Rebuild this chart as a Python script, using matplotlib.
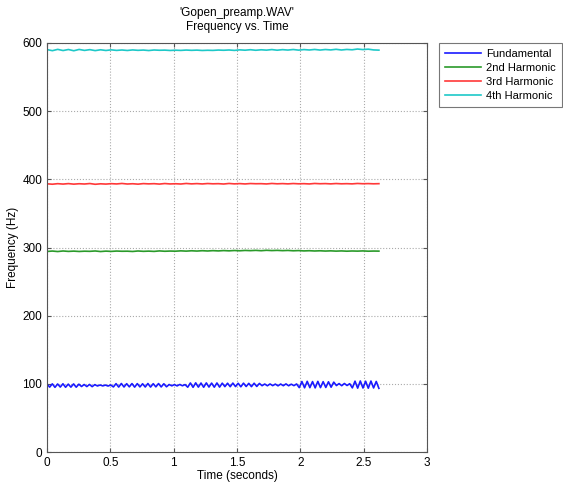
import numpy as np
import matplotlib.pyplot as plt

plt.rcParams['font.family'] = ['Liberation Sans', 'DejaVu Sans']

# pitch track (Hz)
fundamental = [99.8, 95.3, 100.1, 95.0, 99.9, 95.4, 100.2, 95.1, 99.7, 95.3, 100.0, 95.2, 99.6,
               96.2, 99.1, 96.1, 99.2, 96.0, 98.9,
               97.0, 98.4, 97.1, 98.3, 96.9, 98.5,
               95.6, 100.4, 95.4, 100.6, 95.5, 100.3, 95.7, 100.5, 95.3, 100.4, 95.6, 100.2,
               95.5, 100.6, 95.4, 100.3, 95.7, 100.5, 95.6, 100.2, 95.8,
               99.1, 97.2, 99.0, 97.1, 99.2, 97.3, 99.0,
               95.2, 101.4, 95.0, 101.6, 95.3, 101.3, 95.1, 101.5, 95.4, 101.2, 95.2, 101.4, 95.3, 101.1,
               96.0, 101.0, 95.9, 101.2, 96.1, 100.9, 95.8, 101.1, 96.2, 100.8, 96.0, 101.0, 96.3, 100.7,
               97.4, 99.8, 97.3, 99.9, 97.5, 99.7, 97.2, 99.8, 97.4, 100.0, 97.3, 99.6, 97.5, 99.9,
               94.6, 103.5, 94.3, 103.8, 94.5, 103.4, 94.2, 103.7, 94.6, 103.3, 94.8, 103.1, 95.2, 102.6,
               97.6, 100.5, 97.4, 100.6, 97.7, 100.3,
               94.2, 104.0, 93.8, 104.3, 94.0, 103.9, 93.7, 104.2, 94.1, 103.6, 93.5]

harm2 = [294.2, 294.8, 294.1, 294.9, 294.3, 294.7, 294.2, 294.6, 294.4, 294.9, 294.1, 294.7,
         294.3, 294.8, 294.5, 294.6, 294.2, 294.9, 294.4, 294.7, 294.3, 295.0, 294.5, 294.8,
         294.6, 295.1, 294.7, 295.2, 294.8, 295.3, 294.9, 295.4, 295.0, 295.5, 295.1, 295.6,
         295.2, 295.7, 295.4, 295.8, 295.3, 295.9, 295.5, 295.8, 295.4, 295.7, 295.2, 295.5,
         295.0, 295.3, 294.9, 295.2, 294.8, 295.1, 294.7, 295.0, 294.6, 294.9, 294.7, 295.0,
         294.6, 294.8, 294.7]

harm3 = [393.4, 392.8, 393.6, 393.0, 393.7, 392.9, 393.5, 393.1, 393.8, 392.7, 393.4, 393.0,
         393.6, 393.2, 393.9, 393.1, 393.5, 392.9, 393.7, 393.3, 393.6, 393.0, 393.8, 393.2,
         393.5, 393.1, 393.9, 393.3, 393.7, 393.2, 393.8, 393.4, 393.6, 393.1, 393.9, 393.3,
         393.7, 393.2, 393.8, 393.5, 393.6, 393.2, 393.9, 393.4, 393.7, 393.3, 393.8, 393.4,
         393.6, 393.2, 393.9, 393.5, 393.7, 393.3, 393.8, 393.4, 393.6, 393.3, 393.9, 393.5,
         393.7, 393.4, 393.6]

harm4 = [590.2, 588.6, 590.5, 588.8, 590.3, 588.5, 590.4, 589.0, 590.1, 588.7, 589.9, 588.9,
         589.8, 589.0, 589.6, 588.9, 589.7, 589.1, 589.5, 588.8, 589.6, 589.2, 589.4, 588.9,
         589.3, 589.0, 589.5, 589.1, 589.4, 588.9, 589.2, 589.0, 589.5, 589.2, 589.6, 589.0,
         589.8, 589.3, 590.0, 589.2, 589.9, 589.4, 590.2, 589.3, 590.1, 589.5, 590.3, 589.4,
         590.2, 589.6, 590.4, 589.5, 590.3, 589.7, 590.6, 589.6, 590.4, 589.9, 591.0, 590.2,
         590.8, 589.7, 589.4]

labels = ['Fundamental', '2nd Harmonic', '3rd Harmonic', '4th Harmonic']
colors = ['#1a1aff', '#2a9a2a', '#ff3838', '#1ec8c8']
t_end = 2.62

fig = plt.figure(figsize=(5.63, 4.82), dpi=100)
ax = fig.add_axes([0.0835, 0.062, 0.675, 0.849])

for vals, lab, c in zip([fundamental, harm2, harm3, harm4], labels, colors):
    t = np.linspace(0, t_end, len(vals))
    ax.plot(t, vals, color=c, lw=1.2, label=lab)

ax.set_xlim(0, 3)
ax.set_ylim(0, 600)
ax.set_xticks([0, 0.5, 1, 1.5, 2, 2.5, 3])
ax.set_xticklabels(['0', '0.5', '1', '1.5', '2', '2.5', '3'])
ax.set_yticks(range(0, 601, 100))
ax.grid(True, ls=':', color='#aaaaaa', lw=0.8)
ax.tick_params(direction='in', labelsize=8.5, length=3, color='#555555',
               top=True, right=True)
for s in ax.spines.values():
    s.set_color('#555555')

ax.set_xlabel('Time (seconds)', fontsize=8.5, labelpad=1)
ax.set_ylabel('Frequency (Hz)', fontsize=8.5, labelpad=2)
ax.set_title("'Gopen_preamp.WAV'\nFrequency vs. Time", fontsize=8.5, linespacing=1.25, pad=9)

leg = ax.legend(loc='upper left', bbox_to_anchor=(1.032, 1.0), fontsize=8,
                fancybox=False, edgecolor='#555555', handlelength=3.25,
                borderpad=0.55, labelspacing=0.35, handletextpad=0.4, borderaxespad=0)
leg.get_frame().set_linewidth(0.8)

fig.savefig('out.png', dpi=100)
